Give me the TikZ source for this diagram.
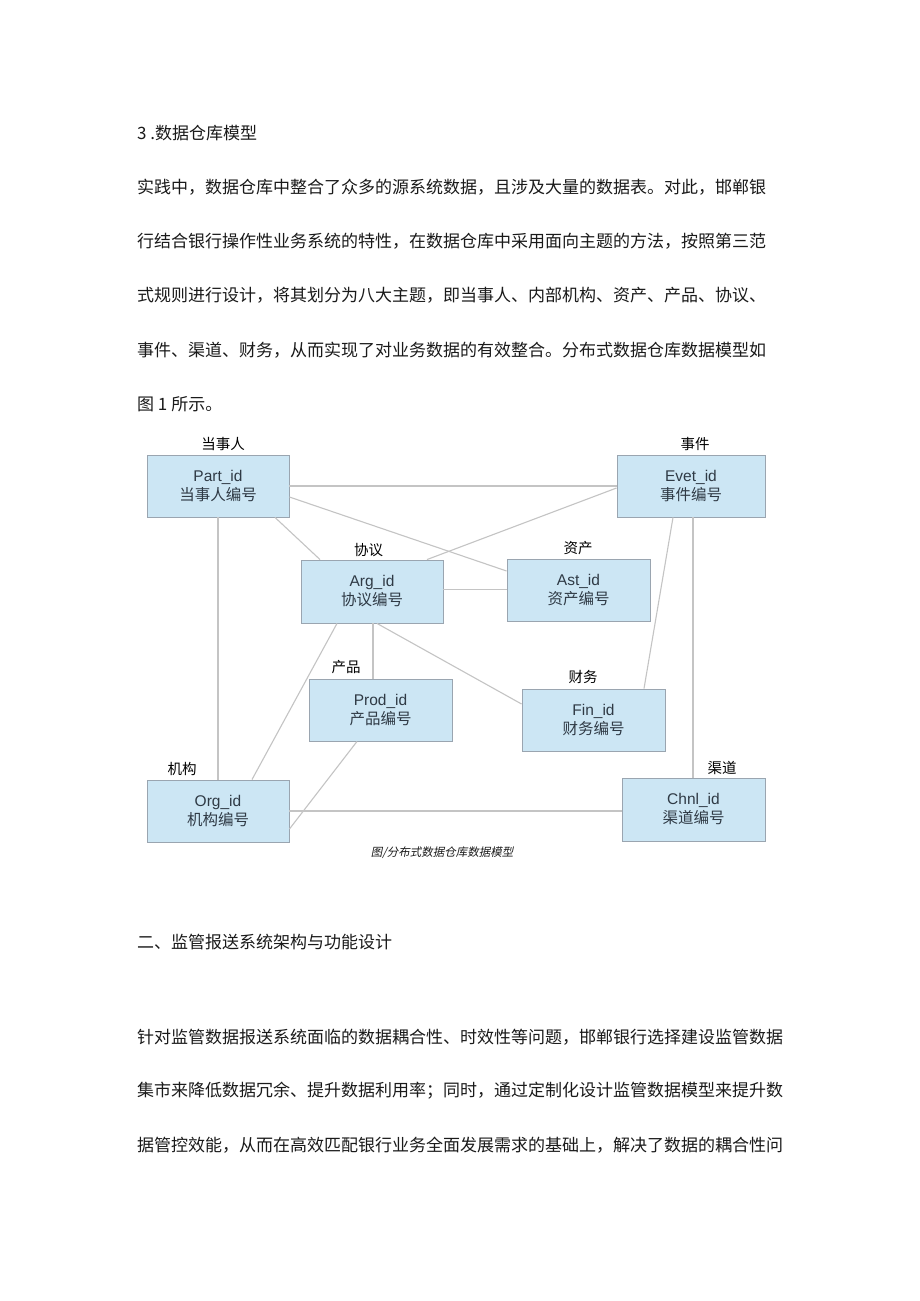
\documentclass[tikz,border=0pt]{standalone}
\usepackage{fontspec}
\setmainfont{Liberation Sans}
\newfontfamily\cjk{Noto Sans CJK SC}
\newfontfamily\cjkit[FakeSlant=0.2]{Noto Sans CJK SC}
\newfontfamily\boxfont{Liberation Sans}
\definecolor{boxfill}{HTML}{CCE6F4}
\definecolor{boxline}{HTML}{9AA5B0}
\definecolor{boxtext}{HTML}{2F3A45}
\definecolor{linkgray}{HTML}{C4C4C4}
\definecolor{bodytext}{HTML}{1A1A1A}
\begin{document}
\begin{tikzpicture}[x=1pt,y=-1pt,
  entity/.style={draw=boxline, line width=0.9pt, fill=boxfill, text=boxtext,
    minimum height=62pt, align=center, inner sep=0pt,
    font=\fontsize{15.5}{19}\selectfont\boxfont},
  tag/.style={text=black, inner sep=0pt, font=\fontsize{14.5}{14.5}\selectfont\cjk},
  link/.style={draw=linkgray, line width=1.1pt},
  para/.style={anchor=west, inner sep=0pt, text=bodytext, font=\fontsize{17}{17}\selectfont\cjk},
  captext/.style={inner sep=0pt, text=bodytext, font=\fontsize{11.5}{11.5}\selectfont\cjkit}]
\useasboundingbox[fill=white] (0,0) rectangle (920,1301);

% text above
\node[para] (t0) at (137,133) {3 .数据仓库模型};
\node[para] (t1) at (137,187) {实践中，数据仓库中整合了众多的源系统数据，且涉及大量的数据表。对此，邯郸银};
\node[para] (t2) at (137,241) {行结合银行操作性业务系统的特性，在数据仓库中采用面向主题的方法，按照第三范};
\node[para] (t3) at (137,295) {式规则进行设计，将其划分为八大主题，即当事人、内部机构、资产、产品、协议、};
\node[para] (t4) at (137,350) {事件、渠道、财务，从而实现了对业务数据的有效整合。分布式数据仓库数据模型如};
\node[para] (t5) at (137,404) {图 1 所示。};

% boxes
\node[entity, minimum width=142pt] (part) at (218,486) {Part\_id\\{\cjk 当事人编号}};
\node[entity, minimum width=148pt] (evet) at (691,486) {Evet\_id\\{\cjk 事件编号}};
\node[entity, minimum width=142pt, minimum height=63pt] (arg) at (372,591.5) {Arg\_id\\{\cjk 协议编号}};
\node[entity, minimum width=143pt] (ast) at (578.5,590) {Ast\_id\\{\cjk 资产编号}};
\node[entity, minimum width=143pt] (prod) at (380.5,710) {Prod\_id\\{\cjk 产品编号}};
\node[entity, minimum width=143pt] (fin) at (593.5,720) {Fin\_id\\{\cjk 财务编号}};
\node[entity, minimum width=142pt] (org) at (218,811) {Org\_id\\{\cjk 机构编号}};
\node[entity, minimum width=143pt, minimum height=63pt] (chnl) at (693.5,809.5) {Chnl\_id\\{\cjk 渠道编号}};

% labels
\node[tag] (lpart) at (223,444) {当事人};
\node[tag] (levet) at (695,444) {事件};
\node[tag] (larg) at (368.5,550) {协议};
\node[tag] (last) at (578,548) {资产};
\node[tag] (lprod) at (346,667) {产品};
\node[tag] (lfin) at (583,677) {财务};
\node[tag] (lorg) at (182,769) {机构};
\node[tag] (lchnl) at (722,768) {渠道};

% connectors
\draw[link] (part.east) -- (evet.west);
\draw[link] ([yshift=-11pt]part.east) -- ([yshift=19pt]ast.west);
\draw[link] ([xshift=57pt]part.south) -- ([xshift=-52pt]arg.north);
\draw[link] (part.south) -- (org.north);
\draw[link] ([yshift=-2pt]evet.west) -- ([xshift=55pt]arg.north);
\draw[link] ([yshift=2pt]arg.east) -- ([yshift=2pt]arg.east -| ast.west);
\draw[link] ([xshift=-18pt]evet.south) -- ([xshift=50.5pt]fin.north);
\draw[link] ([xshift=2pt]evet.south) -- ([xshift=2pt]evet.south |- chnl.north);
\draw[link] ([xshift=-35pt]arg.south) -- ([xshift=34pt]org.north);
\draw[link] ([xshift=1pt]arg.south) -- ([xshift=1pt]arg.south |- prod.north);
\draw[link] ([xshift=5pt]arg.south) -- ([yshift=16pt]fin.west);
\draw[link] ([xshift=-23.5pt]prod.south) -- ([yshift=-18pt]org.east);
\draw[link] (org.east) -- (org.east -| chnl.west);

% caption
\node[captext] (caption) at (442,853) {图/分布式数据仓库数据模型};

% text below
\node[para] (h2) at (137,942) {二、监管报送系统架构与功能设计};
\node[para] (b1) at (137,1037) {针对监管数据报送系统面临的数据耦合性、时效性等问题，邯郸银行选择建设监管数据};
\node[para] (b2) at (137,1091) {集市来降低数据冗余、提升数据利用率；同时，通过定制化设计监管数据模型来提升数};
\node[para] (b3) at (137,1145) {据管控效能，从而在高效匹配银行业务全面发展需求的基础上，解决了数据的耦合性问};
\end{tikzpicture}
\end{document}
